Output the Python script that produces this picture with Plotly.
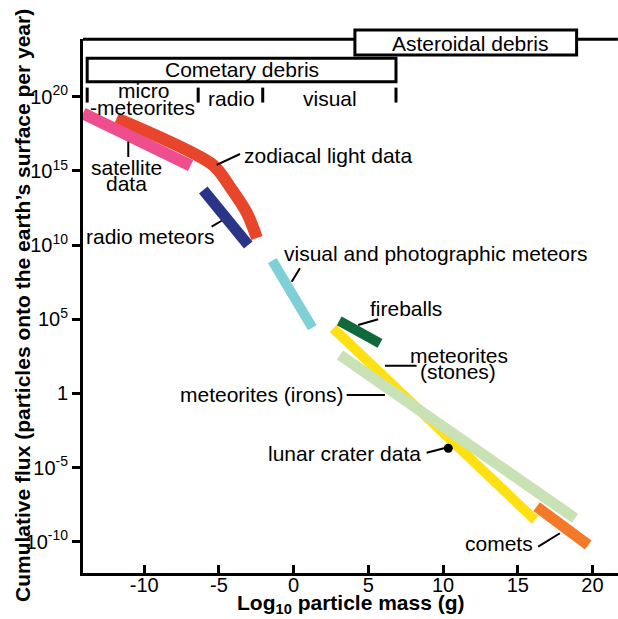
import plotly.graph_objects as go

# ---- data (x: log10 particle mass in g, y: log10 cumulative flux) ----
satellite_x = [-14.1, -6.9]
satellite_y = [18.88, 15.35]
zodiacal_x = [-11.85, -5.4, -4.26, -3.13, -2.46]
zodiacal_y = [18.54, 15.40, 13.92, 12.17, 10.48]
radio_x = [-6.05, -3.04]
radio_y = [13.71, 10.0]
visual_x = [-1.43, 1.25]
visual_y = [8.95, 4.43]
fireballs_x = [3.05, 5.78]
fireballs_y = [4.89, 3.38]
stones_x = [2.65, 16.15]
stones_y = [4.39, -8.52]
irons_x = [3.1, 18.83]
irons_y = [2.59, -8.41]
comets_x = [16.26, 19.72]
comets_y = [-7.63, -10.21]
lunar_x = [10.35]
lunar_y = [-3.69]

cometary_bounds = [-13.82, -6.39, -2.07, 6.85]   # micro / radio / visual limits
asteroidal_bounds = [4.1, 18.94]

x_ticks = [-10, -5, 0, 5, 10, 15, 20]
x_ticktext = ["-10", "-5", "0", "5", "10", "15", "20"]
y_ticks = [-10, -5, 0, 5, 10, 15, 20]
y_ticktext = ["10<sup>-10</sup>", "10<sup>-5</sup>", "1", "10<sup>5</sup>",
              "10<sup>10</sup>", "10<sup>15</sup>", "10<sup>20</sup>"]

FONT = "Arial, Liberation Sans, Helvetica, sans-serif"

fig = go.Figure()

def band(x, y, color, width, shape="linear"):
    fig.add_trace(go.Scatter(x=x, y=y, mode="lines",
                             line=dict(color=color, width=width, shape=shape, smoothing=0.8),
                             hoverinfo="skip", showlegend=False))

band(zodiacal_x, zodiacal_y, "#E8462A", 12, "spline")
band(satellite_x, satellite_y, "#EE4E8E", 12)
band(radio_x, radio_y, "#2B3587", 11)
band(visual_x, visual_y, "#7ED0D6", 10)
band(stones_x, stones_y, "#FFE113", 10)
band(irons_x, irons_y, "#C9E2B5", 11)
band(fireballs_x, fireballs_y, "#10693A", 10)
band(comets_x, comets_y, "#F47A29", 11)
fig.add_trace(go.Scatter(x=lunar_x, y=lunar_y, mode="markers",
                         marker=dict(color="black", size=9), hoverinfo="skip", showlegend=False))

shapes = []
LW = 3
# top line (asteroidal debris range)
shapes.append(dict(type="line", xref="x", yref="paper", x0=-14.1, x1=21.7, y0=0.9995, y1=0.9995,
                   line=dict(color="black", width=LW)))
# asteroidal box
shapes.append(dict(type="rect", xref="x", yref="paper", x0=asteroidal_bounds[0], x1=asteroidal_bounds[1],
                   y0=0.970, y1=1.0169, fillcolor="white", line=dict(color="black", width=LW)))
# cometary box
shapes.append(dict(type="rect", xref="x", yref="paper", x0=cometary_bounds[0], x1=cometary_bounds[-1],
                   y0=0.920, y1=0.9639, fillcolor="white", line=dict(color="black", width=LW)))
for b in cometary_bounds:
    shapes.append(dict(type="line", xref="x", yref="paper", x0=b, x1=b, y0=0.881, y1=0.909,
                       line=dict(color="black", width=LW)))

# leader lines
leaders = [
    (-5.15, 15.40, -3.59, 16.14),
    (-11.07, 16.97, -11.07, 15.94),
    (-5.49, 11.24, -4.82, 11.64),
    (-0.13, 7.53, 0.42, 8.44),
    (4.32, 4.62, 5.66, 5.0),
    (6.11, 1.87, 8.23, 1.87),
    (3.55, -0.10, 6.11, -0.10),
    (8.9, -3.99, 10.13, -3.67),
    (16.37, -10.32, 17.82, -9.42),
]
for x0, y0, x1, y1 in leaders:
    shapes.append(dict(type="line", xref="x", yref="y", x0=x0, y0=y0, x1=x1, y1=y1,
                       line=dict(color="black", width=2)))

FS = 21
def ann(text, x, y, xanchor="center", xref="x", yref="y", size=FS, angle=0):
    return dict(text=text, x=x, y=y, xref=xref, yref=yref, xanchor=xanchor, yanchor="middle",
                showarrow=False, textangle=angle, font=dict(family=FONT, size=size, color="black"))

annotations = [
    ann("Cometary debris", (cometary_bounds[0] + cometary_bounds[-1]) / 2, 0.942, yref="paper"),
    ann("Asteroidal debris", 11.8, 0.9916, yref="paper"),
    ann("micro", -10.05, 20.45),
    ann("-meteorites", -10.09, 19.3),
    ann("radio", -4.13, 19.85),
    ann("visual", 2.40, 19.85),
    ann("zodiacal light data", -3.46, 16.07, "left"),
    ann("satellite", -11.16, 15.26),
    ann("data", -11.16, 14.12),
    ann("radio meteors", -9.62, 10.55),
    ann("visual and photographic meteors", -0.80, 9.43, "left"),
    ann("fireballs", 7.55, 5.73),
    ann("meteorites", 11.06, 2.59),
    ann("(stones)", 11.03, 1.45),
    ann("meteorites (irons)", 3.43, -0.07, "right"),
    ann("lunar crater data", 8.65, -4.04, "right"),
    ann("comets", 16.15, -10.11, "right"),
    ann("<b>Log<sub>10</sub> particle mass (g)</b>", 0.5, -0.058, xref="paper", yref="paper"),
    ann("<b>Cumulative flux (particles onto the earth\u2019s surface per year)</b>", -0.114, 0.5,
        xref="paper", yref="paper", angle=-90),
]

fig.update_layout(
    width=618, height=619,
    margin=dict(l=83, r=0, t=39, b=46),
    paper_bgcolor="white", plot_bgcolor="white",
    font=dict(family=FONT, size=20, color="black"),
    shapes=shapes, annotations=annotations,
    xaxis=dict(range=[-14.1, 21.71], tickvals=x_ticks, ticktext=x_ticktext, ticks="inside",
               ticklen=8, tickwidth=3, ticklabelstandoff=-8,
               tickcolor="black", showline=True, linewidth=3, linecolor="black",
               showgrid=False, zeroline=False, tickfont=dict(size=20), fixedrange=True),
    yaxis=dict(range=[-12.1, 23.89], tickvals=y_ticks, ticktext=y_ticktext, ticks="outside",
               ticklen=8, tickwidth=3, tickcolor="black", showline=True, linewidth=3,
               linecolor="black", showgrid=False, zeroline=False, tickfont=dict(size=20),
               fixedrange=True),
)

fig.write_html("out.html", config={"displayModeBar": False},
               post_script="document.body.style.margin='0';document.body.style.overflow='hidden';")
